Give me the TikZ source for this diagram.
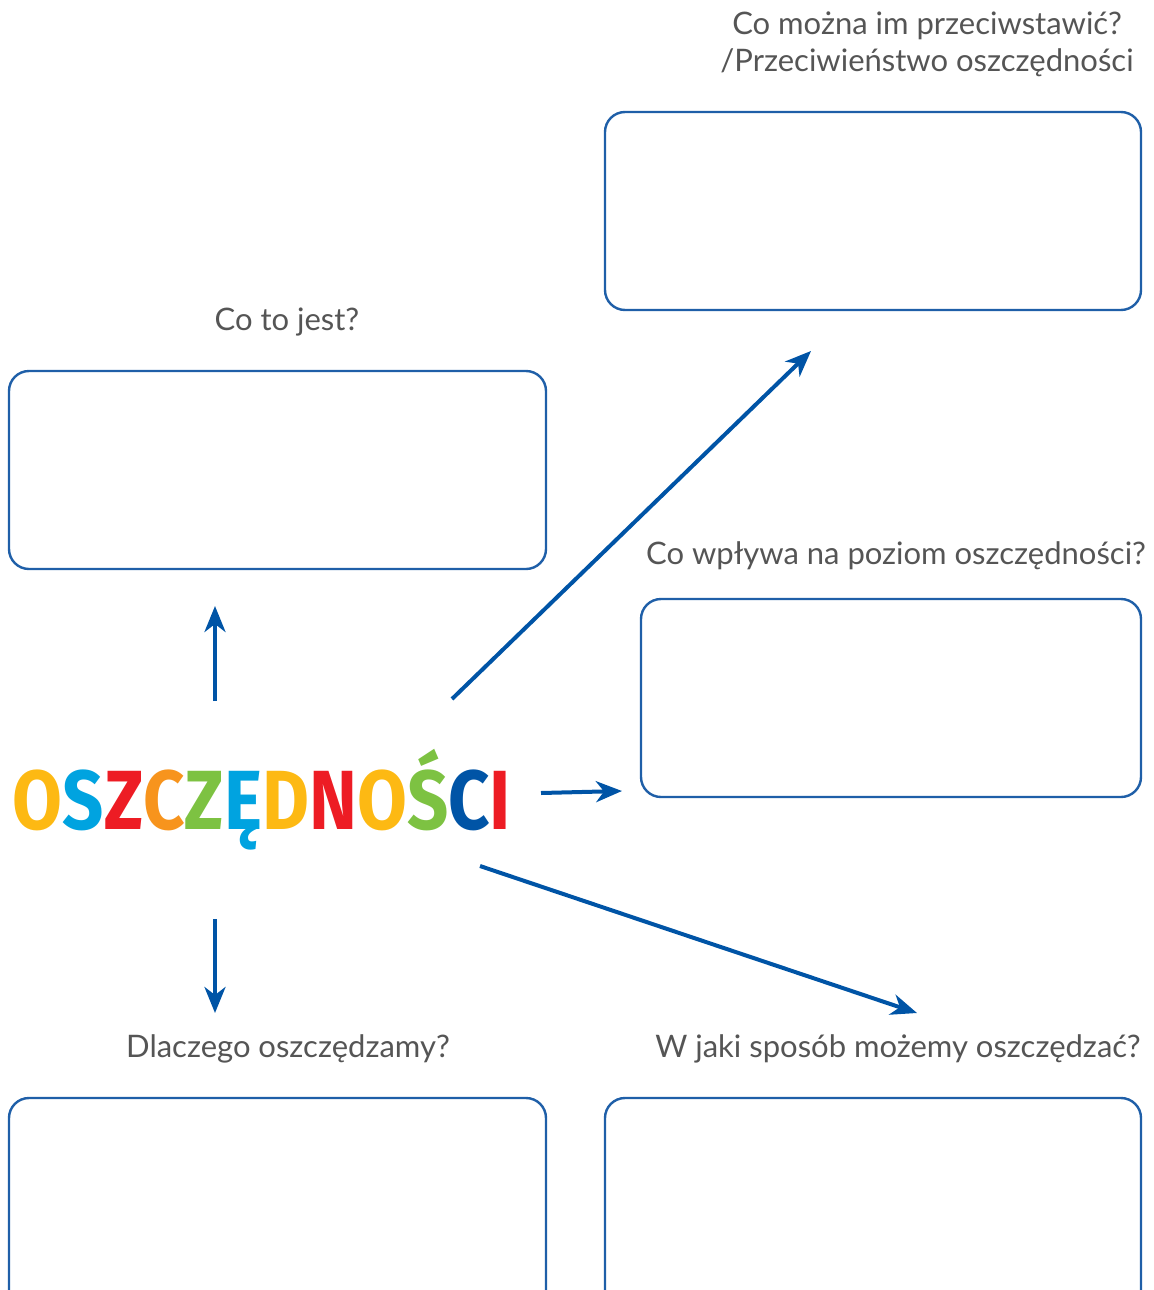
\documentclass[tikz,border=0pt]{standalone}
\usepackage{fontspec}
\usepackage{graphicx}
\setmainfont{Lato}
\newfontfamily\titlefont{Fira Sans}
\usetikzlibrary{arrows.meta}

\definecolor{arrowblue}{HTML}{0054A6}
\definecolor{boxblue}{HTML}{1F5FA8}
\definecolor{labelgray}{HTML}{555555}
\definecolor{lyellow}{HTML}{FDB913}
\definecolor{lcyan}{HTML}{00A3E0}
\definecolor{lred}{HTML}{ED1C24}
\definecolor{lorange}{HTML}{F7941D}
\definecolor{lgreen}{HTML}{7DC242}
\definecolor{ldblue}{HTML}{0054A6}

\tikzset{
  answerbox/.style={draw=boxblue, line width=1.2pt, rounded corners=10pt},
  question/.style={labelgray, font=\fontsize{15.5}{18.5}\selectfont, align=center},
  bigarrow/.style={arrowblue, line width=2pt, -{Stealth[length=13pt,width=10.5pt,inset=4pt]}}
}

\begin{document}
\begin{tikzpicture}[x=0.5pt,y=-0.5pt]
    \useasboundingbox (0,0) rectangle (1154,1290);

    % answer boxes
    \draw[answerbox] (605,112) rectangle (1141,310);
    \draw[answerbox] (9,371) rectangle (546,569);
    \draw[answerbox] (641,599) rectangle (1141,797);
    \draw[answerbox] (9,1098) rectangle (546,1330);
    \draw[answerbox] (605,1098) rectangle (1141,1330);

    % questions
    \node[question] (qopp) at (927,44) {Co można im przeciwstawić?\\/Przeciwieństwo oszczędności};
    \node[question] (qwhat) at (287,322) {Co to jest?};
    \node[question] (qlevel) at (896,556) {Co wpływa na poziom oszczędności?};
    \node[question] (qwhy) at (288,1049) {Dlaczego oszczędzamy?};
    \node[question] (qhow) at (898,1049) {W jaki sposób możemy oszczędzać?};

    % title
    \node[inner sep=0pt, font=\titlefont\bfseries\fontsize{42}{42}\selectfont] (title) at (262,800)
      {\scalebox{0.86}[1]{\textcolor{lyellow}{O}\textcolor{lcyan}{S}\textcolor{lred}{Z}\textcolor{lorange}{C}\textcolor{lgreen}{Z}\textcolor{lcyan}{Ę}\textcolor{lyellow}{D}\textcolor{lred}{N}\textcolor{lyellow}{O}\textcolor{lgreen}{Ś}\textcolor{ldblue}{C}\textcolor{lred}{I}}};

    % arrow ends
    \coordinate (upS) at (215,701);
    \coordinate (upE) at (215,606);
    \coordinate (diagS) at (452,699);
    \coordinate (diagE) at (811,351);
    \coordinate (rightS) at (541,793);
    \coordinate (rightE) at (622,791);
    \coordinate (downS) at (215,919);
    \coordinate (downE) at (215,1013);
    \coordinate (lowS) at (480,866);
    \coordinate (lowE) at (917,1013);

    \draw[bigarrow] (upS) -- (upE);
    \draw[bigarrow] (diagS) -- (diagE);
    \draw[bigarrow] (rightS) -- (rightE);
    \draw[bigarrow] (downS) -- (downE);
    \draw[bigarrow] (lowS) -- (lowE);

\end{tikzpicture}
\end{document}
